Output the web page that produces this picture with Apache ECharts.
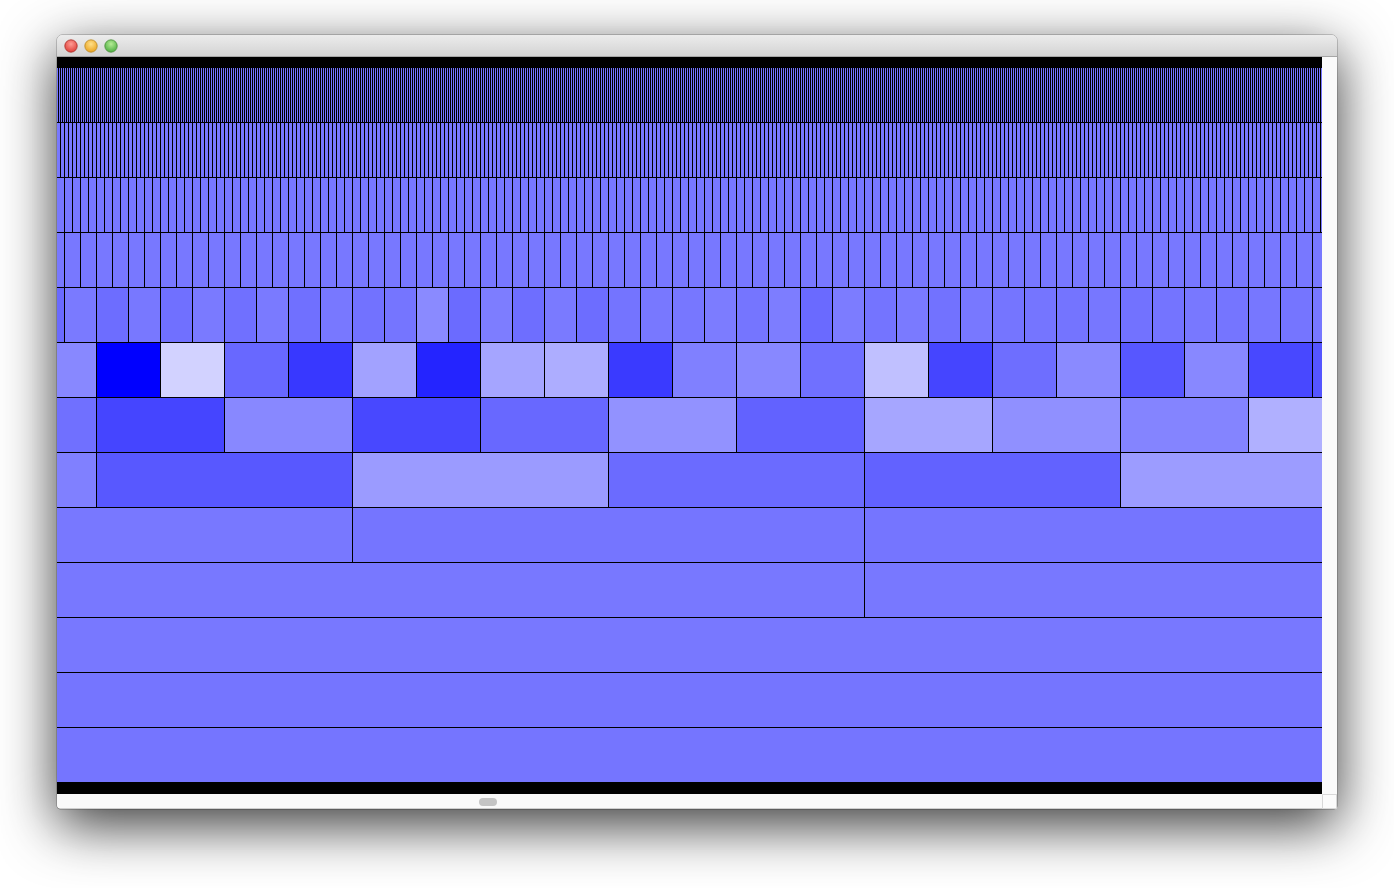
<!DOCTYPE html>
<html>
<head>
<meta charset="utf-8">
<script src="https://cdn.jsdelivr.net/npm/echarts@6/dist/echarts.min.js"></script>
<style>
  html, body { margin: 0; padding: 0; background: #ffffff; }
  #chart { width: 1394px; height: 888px; }
</style>
</head>
<body>
<div id="chart"></div>
<script>
// ---- visible window on the x axis (data units) ----
const viewStart = 217;
const viewEnd = 1482;

// ---- levels: a cell at level L spans 2^L data units ----
// fine levels: every cell reads as the same shade in the picture
const fineLevels = [1, 2, 3, 4];
const fineLevelValues = [116, 120, 120, 120];

// coarse levels: shade per cell (0 = deep blue, 255 = white), from first visible cell index
const coarseLevels = [5, 6, 7, 8, 9, 10, 11, 12, 13];
const firstCell = [6, 3, 1, 0, 0, 0, 0, 0, 0];
const lv5 = [106, 122, 109, 120, 112, 122, 112, 122, 112, 120, 114, 117, 138, 107, 125, 110, 122, 109, 116, 120,
             119, 124, 117, 125, 106, 124, 116, 122, 114, 120, 117, 117, 116, 119, 114, 116, 120, 117, 119, 117, 119];
const lv6 = [136, 0, 210, 104, 56, 162, 36, 165, 173, 58, 128, 136, 112, 192, 69, 110, 138, 87, 136, 72, 85];
const lv7 = [112, 69, 136, 72, 104, 146, 98, 166, 144, 132, 176];
const lv8 = [128, 88, 155, 107, 98, 156];
const lv9 = [120, 117, 117];
const lv10 = [120, 120];
const lv11 = [120];
const lv12 = [117];
const lv13 = [117];
const coarseValues = [lv5, lv6, lv7, lv8, lv9, lv10, lv11, lv12, lv13];

// ---- build cells: [start, level, width, value] ----
const cells = [];
fineLevels.forEach(function (L, k) {
  const w = Math.pow(2, L);
  const i0 = Math.floor(viewStart / w), i1 = Math.floor(viewEnd / w);
  for (let i = i0; i <= i1; i++) cells.push([i * w, L, w, fineLevelValues[k]]);
});
coarseLevels.forEach(function (L, k) {
  const w = Math.pow(2, L);
  coarseValues[k].forEach(function (v, j) {
    cells.push([(firstCell[k] + j) * w, L, w, v]);
  });
});

function renderItem(params, api) {
  const u0 = api.value(0), lvl = api.value(1), w = api.value(2);
  const a = api.coord([u0, lvl]);
  const b = api.coord([u0 + w, lvl + 1]);
  const cs = params.coordSys;
  const shape = echarts.graphic.clipRectByRect(
    { x: a[0] + 1, y: a[1] + 1, width: b[0] - a[0] - 1, height: b[1] - a[1] - 1 },
    { x: cs.x, y: cs.y, width: cs.width, height: cs.height }
  );
  if (!shape || shape.width <= 0 || shape.height <= 0) return null;
  return { type: 'rect', shape: shape, style: { fill: api.visual('color') } };
}

function light(cx, c1, c2, stroke) {
  return {
    type: 'circle', z: 5,
    shape: { cx: cx, cy: 46, r: 6.2 },
    style: {
      fill: new echarts.graphic.RadialGradient(0.5, 0.35, 0.7, [
        { offset: 0, color: c1 }, { offset: 1, color: c2 }
      ]),
      stroke: stroke, lineWidth: 0.8
    }
  };
}

const chart = echarts.init(document.getElementById('chart'), null, { renderer: 'canvas' });
chart.setOption({
  backgroundColor: '#ffffff',
  animation: false,
  grid: { left: 57, top: 57, width: 1265, height: 737 },
  xAxis: { type: 'value', min: viewStart, max: viewEnd, show: false },
  yAxis: { type: 'value', min: 45 / 55, max: 782 / 55, inverse: true, show: false },
  visualMap: {
    show: false, type: 'continuous', min: 0, max: 255, dimension: 3,
    inRange: { color: ['#0000ff', '#ffffff'] }
  },
  graphic: [
    { type: 'rect', z: 0, shape: { x: 57, y: 35, width: 1280, height: 774, r: [5, 5, 3, 3] },
      style: { fill: '#fafafa', stroke: 'rgba(0,0,0,0.35)', lineWidth: 1,
               shadowBlur: 55, shadowColor: 'rgba(0,0,0,0.78)', shadowOffsetY: 16 } },
    { type: 'rect', z: 1, shape: { x: 57, y: 35, width: 1280, height: 22, r: [5, 5, 0, 0] },
      style: { fill: new echarts.graphic.LinearGradient(0, 0, 0, 1, [
        { offset: 0, color: '#ececec' }, { offset: 1, color: '#d2d2d2' }]) } },
    { type: 'line', z: 1, shape: { x1: 57, y1: 56.5, x2: 1337, y2: 56.5 }, style: { stroke: '#a6a6a6', lineWidth: 1 } },
    light(71, '#ff9c94', '#d9322b', '#a9302a'),
    light(91, '#ffe08a', '#e79b10', '#b98a2a'),
    light(111, '#b5ec95', '#3fa536', '#4c8e3e'),
    { type: 'rect', z: 1, shape: { x: 57, y: 57, width: 1265, height: 737 }, style: { fill: '#000000' } },
    { type: 'rect', z: 1, shape: { x: 1322, y: 57, width: 15, height: 737 }, style: { fill: '#fafafa' } },
    { type: 'rect', z: 1, shape: { x: 57, y: 794, width: 1265, height: 14, r: [0, 0, 0, 3] }, style: { fill: '#f9f9f9' } },
    { type: 'rect', z: 1, shape: { x: 1322.5, y: 794.5, width: 14, height: 14 }, style: { fill: '#fbfbfb', stroke: '#d8d8d8', lineWidth: 1 } },
    { type: 'rect', z: 2, shape: { x: 479, y: 798, width: 18, height: 8, r: 4 }, style: { fill: '#c4c4c4' } }
  ],
  series: [{
    type: 'custom', z: 10,
    coordinateSystem: 'cartesian2d',
    renderItem: renderItem,
    encode: { x: [0, 2], y: 1 },
    data: cells
  }]
});
</script>
</body>
</html>
